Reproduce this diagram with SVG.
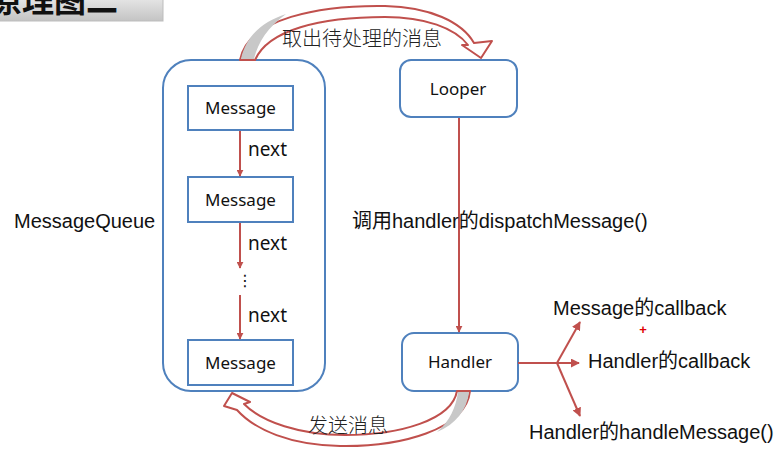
<svg xmlns="http://www.w3.org/2000/svg" width="782" height="460" viewBox="0 0 782 460">
<defs>
<linearGradient id="tg" x1="0" y1="0" x2="0" y2="1"><stop offset="0" stop-color="#e6e6e6"/><stop offset="1" stop-color="#c4c4c4"/></linearGradient>
<marker id="ah" viewBox="0 0 10 10" refX="9" refY="5" markerWidth="7" markerHeight="7" markerUnits="userSpaceOnUse" orient="auto"><path d="M0,0 L10,5 L0,10 Z" fill="#c0504d"/></marker>
<marker id="ahb" viewBox="0 0 10 10" refX="9" refY="5" markerWidth="9" markerHeight="9" markerUnits="userSpaceOnUse" orient="auto"><path d="M0,0 L10,5 L0,10 Z" fill="#c0504d"/></marker>
</defs>
<style>
.box{fill:#fff;stroke:#4f81bd;stroke-width:2}
.msg{fill:#fff;stroke:#4f81bd;stroke-width:2}
.lbl{font-family:"Noto Sans","Liberation Sans",sans-serif;font-size:17px;fill:#111;text-anchor:middle}
.nxt{font-family:"Noto Sans","Liberation Sans",sans-serif;font-size:19px;fill:#111}
.t{font-family:"Liberation Sans","Noto Sans CJK SC",sans-serif;font-size:20px;fill:#111}
.cn{font-family:"Noto Sans CJK SC",sans-serif;font-size:20px;fill:#222;font-weight:300}
.ln{stroke:#c0504d;stroke-width:2;fill:none}
.ba{fill:#fff;stroke:#c0504d;stroke-width:2;stroke-linejoin:round}
.sh{fill:#c8c8c8}
</style>
<rect width="782" height="460" fill="#fff"/>
<g id="title">
<rect x="-2" y="-2" width="165" height="23" fill="url(#tg)" stroke="#bdbdbd" stroke-width="1"/>
<text x="-10" y="12" font-family="Noto Sans CJK SC,sans-serif" font-size="32" font-weight="bold" fill="#111">原理图二</text>
</g>
<g id="messagequeue">
<rect class="box" x="163" y="60" width="162" height="331" rx="28"/>
<text class="t" x="14" y="228">MessageQueue</text>
</g>
<g id="message1"><rect class="msg" x="188" y="86" width="105" height="44"/><text class="lbl" x="240.5" y="114">Message</text></g>
<g id="message2"><rect class="msg" x="188" y="177" width="105" height="45"/><text class="lbl" x="240.5" y="206">Message</text></g>
<g id="message3"><rect class="msg" x="188" y="340" width="105" height="45"/><text class="lbl" x="240.5" y="369">Message</text></g>
<g id="looper"><rect class="box" x="400" y="60" width="117" height="57" rx="11"/><text class="lbl" x="458" y="95">Looper</text></g>
<g id="handler"><rect class="box" x="402" y="333" width="116" height="58" rx="12"/><text class="lbl" x="460" y="368">Handler</text></g>
<g id="connectors">
<line class="ln" x1="240" y1="131" x2="240" y2="176" marker-end="url(#ah)"/>
<line class="ln" x1="240" y1="223" x2="240" y2="268" marker-end="url(#ah)"/>
<line class="ln" x1="240" y1="295" x2="240" y2="339" marker-end="url(#ah)"/>
<text class="nxt" x="248" y="156">next</text>
<text class="nxt" x="248" y="250">next</text>
<text class="nxt" x="248" y="322">next</text>
<text x="245" y="286" font-family="DejaVu Sans,sans-serif" font-size="16" fill="#111" text-anchor="middle">⋮</text>
<line class="ln" x1="459" y1="118" x2="459" y2="332" marker-end="url(#ah)"/>
<text class="t" x="352" y="228" font-size="20.5">调用handler的dispatchMessage()</text>
<path class="ba" d="M240,60 C248,18 320,5 385,6 C430,7 462,22 474,43 L492,41 L481,58 L462,45 L468,45 C455,28 425,17 385,17 C320,17 268,30 255,60 Z"/>
<path class="sh" d="M241,59 C246,36 262,22 286,14 C268,27 258,42 254,59 Z"/>
<text class="cn" x="282" y="46">取出待处理的消息</text>
<path class="ba" d="M470,391 C466,430 400,447 340,446 C290,445 255,430 237,410 L224,406 L232,393 L250,402 L244,404 C262,422 300,435 345,435 C400,435 452,420 457,391 Z"/>
<path class="sh" d="M469,392 C467,410 456,424 437,432 C450,421 456,407 458,392 Z"/>
<text class="cn" x="308" y="433">发送消息</text>
<polyline class="ln" points="518,363 557,363"/>
<line class="ln" x1="557" y1="363" x2="580" y2="322" marker-end="url(#ahb)"/>
<line class="ln" x1="557" y1="363" x2="579" y2="363" marker-end="url(#ahb)"/>
<line class="ln" x1="557" y1="363" x2="580" y2="416" marker-end="url(#ahb)"/>
<text class="t" x="553" y="315">Message的callback</text>
<text class="t" x="588" y="368">Handler的callback</text>
<text class="t" x="529" y="439">Handler的handleMessage()</text>
<text x="643" y="334" font-family="Liberation Sans,sans-serif" font-size="13" font-weight="bold" fill="#e00000" text-anchor="middle">+</text>
</g>
</svg>
